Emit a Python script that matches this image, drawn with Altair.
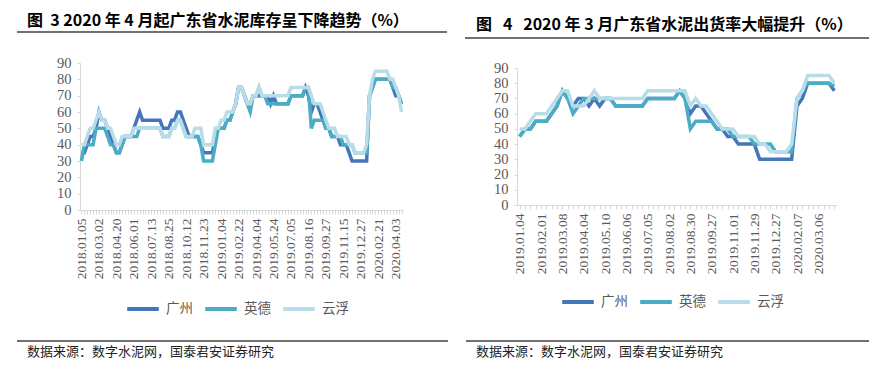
import json
import altair as alt
import pandas as pd

series = ["广州", "英德", "云浮"]
colors = ["#4676BA", "#4BACC6", "#B9DDE8"]

title_left = "图\u00a0\u00a03 2020 年 4 月起广东省水泥库存呈下降趋势（%）"
title_right = "图\u00a0\u00a0\u00a04\u00a0\u00a0\u00a02020 年 3 月广东省水泥出货率大幅提升（%）"
source_text = "数据来源：数字水泥网，国泰君安证券研究"

# ---- left panel (inventory ratio, weekly) ----
labels_left = ["2018.01.05", "2018.03.02", "2018.04.20", "2018.06.01", "2018.07.13",
               "2018.08.25", "2018.10.12", "2018.11.23", "2019.01.04", "2019.02.22",
               "2019.04.04", "2019.05.24", "2019.07.05", "2019.08.16", "2019.09.27",
               "2019.11.15", "2019.12.27", "2020.02.21", "2020.04.03"]
gz_left = [35,
           35, 40, 45, 45, 50, 60, 55, 55,
           50, 45, 40, 35, 35, 40, 45, 45, 45, 50,
           55, 60, 55, 55, 55, 55, 55, 55, 55,
           50, 50, 50, 55, 55, 60, 60, 55, 50, 45,
           45, 45, 45, 40, 35, 35, 35, 35, 45,
           50, 50, 50, 55, 55, 60, 65, 75, 75, 70,
           65, 65, 70, 70, 70, 70, 70, 70, 65,
           70, 65, 65, 65, 65, 65, 70, 70, 70, 70,
           70, 75, 70, 60, 65, 65, 60, 55, 50,
           50, 45, 45, 45, 40, 40, 40, 35, 30, 30,
           30, 30, 30, 30, 70, 75, 80, 80, 80,
           80, 80, 80, 75, 70, 70, 65]
yd_left = [30,
           40, 40, 40, 40, 50, 50, 50, 50,
           45, 40, 40, 35, 35, 40, 45, 45, 45, 45,
           45, 50, 50, 50, 50, 50, 50, 50, 50,
           45, 45, 45, 50, 50, 55, 55, 50, 45, 45,
           45, 45, 45, 40, 30, 30, 30, 30, 40,
           50, 50, 50, 55, 55, 60, 65, 75, 75, 70,
           65, 60, 70, 70, 75, 70, 70, 65, 65,
           65, 65, 65, 65, 65, 65, 70, 70, 70, 70,
           70, 75, 75, 50, 55, 55, 55, 55, 50,
           50, 45, 45, 45, 45, 40, 40, 40, 40, 35,
           35, 35, 35, 35, 70, 75, 80, 80, 80,
           80, 80, 80, 75, 75, 70, 65]
yf_left = [40,
           40, 45, 50, 50, 55, 60, 55, 55,
           50, 50, 45, 40, 40, 45, 45, 45, 45, 50,
           50, 50, 50, 50, 50, 50, 50, 50, 50,
           45, 45, 45, 50, 50, 55, 55, 50, 45, 45,
           45, 50, 50, 50, 40, 40, 40, 40, 50,
           50, 55, 55, 60, 60, 60, 65, 75, 75, 70,
           65, 65, 70, 70, 75, 70, 70, 70, 70,
           70, 70, 70, 70, 70, 70, 75, 75, 75, 75,
           75, 75, 75, 70, 65, 65, 65, 60, 55,
           50, 50, 50, 45, 45, 45, 45, 40, 40, 35,
           35, 35, 35, 40, 70, 80, 85, 85, 85,
           85, 85, 80, 80, 75, 70, 60]

# ---- right panel (shipment ratio, weekly) ----
labels_right = ["2019.01.04", "2019.02.01", "2019.03.08", "2019.04.04", "2019.05.10",
                "2019.06.06", "2019.07.05", "2019.08.02", "2019.08.30", "2019.09.27",
                "2019.11.01", "2019.11.29", "2019.12.27", "2020.02.07", "2020.03.06"]
gz_right = [45, 50, 50, 55, 55, 55, 60, 65, 75, 70,
            65, 70, 70, 65, 70, 65, 70, 70, 65, 65,
            65, 65, 65, 65, 70, 70, 70, 70, 70, 70,
            75, 70, 60, 65, 65, 60, 55, 50, 50, 45,
            45, 40, 40, 40, 40, 30, 30, 30, 30, 30,
            30, 30, 65, 70, 80, 80, 80, 80, 80, 75]
yd_right = [45, 50, 50, 55, 55, 55, 60, 65, 75, 70,
            60, 65, 70, 70, 70, 70, 70, 70, 65, 65,
            65, 65, 65, 65, 70, 70, 70, 70, 70, 70,
            75, 70, 50, 55, 55, 55, 55, 50, 50, 50,
            45, 45, 45, 45, 40, 40, 40, 40, 35, 35,
            35, 35, 70, 75, 80, 80, 80, 80, 80, 78]
yf_right = [50, 50, 55, 60, 60, 60, 65, 70, 75, 75,
            65, 65, 65, 70, 75, 70, 70, 70, 70, 70,
            70, 70, 70, 70, 75, 75, 75, 75, 75, 75,
            75, 75, 65, 70, 65, 65, 60, 55, 50, 50,
            50, 45, 45, 45, 45, 40, 40, 35, 35, 35,
            35, 40, 70, 75, 85, 85, 85, 85, 85, 80]

W, H = 861, 363
FONT_CJK = "Noto Sans CJK SC"
FONT_NUM = "Liberation Serif"
GREY = "#595959"
AXIS_GREY = "#D9D9D9"


def long_df(vals_list):
    rows = []
    for name, vals in zip(series, vals_list):
        for i, v in enumerate(vals):
            rows.append({"i": i, "v": v, "s": name})
    return pd.DataFrame(rows)


def panel(vals_list, labels, step, xr, yr, leg_x, leg_y):
    df = long_df(vals_list)
    n = len(vals_list[0])
    expr = f"datum.value % {step} == 0 ? {json.dumps(labels)}[datum.value / {step}] : ''"
    x = alt.X("i:Q",
              scale=alt.Scale(domain=[-0.5, n - 0.5], range=xr, nice=False, zero=False),
              axis=alt.Axis(orient="bottom", offset=yr[0] - H, values=list(range(n)),
                            labelExpr=expr, labelAngle=270, labelOverlap=False,
                            labelFont=FONT_NUM, labelFontSize=13.5, labelColor=GREY,
                            labelPadding=4, tickSize=4, tickColor=AXIS_GREY,
                            domainColor=AXIS_GREY, grid=False, title=None))
    y = alt.Y("v:Q",
              scale=alt.Scale(domain=[0, 90], range=yr, nice=False, zero=True),
              axis=alt.Axis(orient="left", offset=-xr[0], values=list(range(0, 91, 10)),
                            labelFont=FONT_NUM, labelFontSize=14.5, labelColor=GREY,
                            labelPadding=6, tickSize=3, tickColor=AXIS_GREY,
                            domainColor=AXIS_GREY, grid=False, title=None))
    color = alt.Color("s:N",
                      scale=alt.Scale(domain=series, range=colors),
                      legend=alt.Legend(orient="none", legendX=leg_x, legendY=leg_y,
                                        direction="horizontal", title=None,
                                        symbolType="stroke", symbolStrokeWidth=4,
                                        symbolSize=1000, labelFont=FONT_CJK,
                                        labelFontSize=13.5, labelColor=GREY,
                                        columnPadding=4, labelOffset=5))
    return alt.Chart(df).mark_line(strokeWidth=3.5).encode(
        x=x, y=y, color=color, order="i:Q", detail="s:N")


def text_layer(txt, x, y, size, weight="normal", color="#000000"):
    return alt.Chart(alt.Data(values=[{"t": txt}])).mark_text(
        align="left", baseline="middle", fontSize=size, fontWeight=weight,
        font=FONT_CJK, color=color).encode(x=alt.value(x), y=alt.value(y), text="t:N")


def rule_layer(x1, x2, y, width=1.3, color="#404040"):
    return alt.Chart(alt.Data(values=[{}])).mark_rule(
        color=color, strokeWidth=width).encode(x=alt.value(x1), x2=alt.value(x2), y=alt.value(y))


left = panel([gz_left, yd_left, yf_left], labels_left, 6, [72, 395], [202, 55], 117, 283)
right = panel([gz_right, yd_right, yf_right], labels_right, 4, [509, 829], [197, 60], 552, 276)

chart = alt.layer(
    left, right,
    text_layer(title_left, 19, 13, 16, "bold"),
    text_layer(title_right, 468, 17, 16, "bold"),
    rule_layer(9, 439, 24),
    rule_layer(457, 861, 30),
    rule_layer(9, 440, 333),
    rule_layer(458, 861, 333),
    text_layer(source_text, 19, 344, 13, color="#222222"),
    text_layer(source_text, 468, 344, 13, color="#222222"),
).resolve_scale(
    x="independent", y="independent", color="independent"
).properties(
    width=W, height=H, padding=0, autosize=alt.AutoSizeParams(type="none")
).configure_view(stroke=None)

chart.save("out.html", embed_options={"renderer": "svg", "actions": False})
